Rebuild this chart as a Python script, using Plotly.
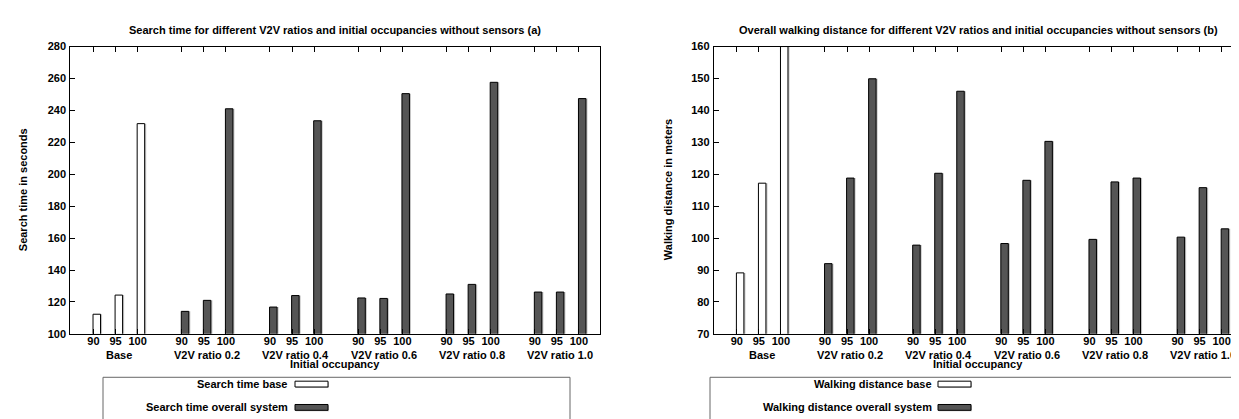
import plotly.graph_objects as go

# ---------------- data ----------------
groups = ["Base", "V2V ratio 0.2", "V2V ratio 0.4", "V2V ratio 0.6", "V2V ratio 0.8", "V2V ratio 1.0"]
occupancies = ["90", "95", "100"]

search_base = [112.3, 124.3, 231.7]
search_system = [114.1, 121.0, 241.0,
                 116.8, 124.0, 233.5,
                 122.5, 122.2, 250.5,
                 125.0, 131.0, 257.6,
                 126.2, 126.2, 247.4]

walk_base = [89.1, 117.2, 160.0]
walk_system = [92.0, 118.8, 149.9,
               97.8, 120.3, 146.0,
               98.3, 118.1, 130.3,
               99.6, 117.6, 118.8,
               100.3, 115.8, 102.9]

titles = ["Search time for different V2V ratios and initial occupancies without sensors (a)",
          "Overall walking distance for different V2V ratios and initial occupancies without sensors (b)"]
y_titles = ["Search time in seconds", "Walking distance in meters"]
x_title = "Initial occupancy"
legend_names = [["Search time base", "Search time overall system"],
                ["Walking distance base", "Walking distance overall system"]]
y_ranges = [[100, 280], [70, 160]]
y_dticks = [20, 10]

# ---------------- layout constants ----------------
W, H = 1239, 419
FONT = "Liberation Sans, Arial, sans-serif"
DARK = "#555555"
SHADOW = "#c4c4c4"
BAR_W = 0.34
TICK_SHIFT = 0.15

def py(pix):  # pixel from top -> paper y
    return (H - pix) / H

def px(pix):
    return pix / W

def tfont():
    return dict(family=FONT, size=11, color="black", weight="bold")

panel_x = [(62.3, 592.3), (705.7, 1235.0)]
plot_top, plot_bot = 33.5, 329.3
legend_box = [(95, 562), (702, 1250)]
legend_text_right = [282, 926]
legend_sample = [(287, 320), (930, 963)]
y_title_x = [15, 660]

def positions(start_group, n_groups):
    return [4 * g + i for g in range(start_group, start_group + n_groups) for i in range(3)]

fig = go.Figure()
shapes, annotations = [], []

panels = [(search_base, search_system), (walk_base, walk_system)]
for k, (base_vals, sys_vals) in enumerate(panels):
    xa = "x" if k == 0 else "x2"
    ya = "y" if k == 0 else "y2"
    xb = positions(0, 1)
    xs = positions(1, len(groups) - 1)
    # shadows
    for xv, yv in ((xb, base_vals), (xs, sys_vals)):
        fig.add_trace(go.Bar(x=xv, y=yv, width=BAR_W, offset=-BAR_W / 2 + 0.07,
                             marker=dict(color=SHADOW, line=dict(width=0)),
                             xaxis=xa, yaxis=ya, showlegend=False, hoverinfo="skip"))
    fig.add_trace(go.Bar(x=xb, y=base_vals, width=BAR_W, offset=-BAR_W / 2,
                         marker=dict(color="white", line=dict(color="black", width=1)),
                         xaxis=xa, yaxis=ya, name=legend_names[k][0], showlegend=False))
    fig.add_trace(go.Bar(x=xs, y=sys_vals, width=BAR_W, offset=-BAR_W / 2,
                         marker=dict(color=DARK, line=dict(color="black", width=1)),
                         xaxis=xa, yaxis=ya, name=legend_names[k][1], showlegend=False))

    all_pos = positions(0, len(groups))
    x0, x1 = panel_x[k]
    axis_common = dict(showline=True, linecolor="black", linewidth=1, showgrid=False,
                       zeroline=False, ticks="inside", ticklen=5, tickcolor="black",
                       tickfont=tfont())
    xax = dict(axis_common, domain=[px(x0), px(x1)], range=[-1.2, 22.82],
               tickvals=[p - TICK_SHIFT for p in all_pos],
               ticktext=occupancies * len(groups), mirror="ticks", anchor=ya,
               ticklabelstandoff=-3)
    yax = dict(axis_common, domain=[py(plot_bot), py(plot_top)], range=y_ranges[k],
               dtick=y_dticks[k], tick0=y_ranges[k][0], mirror=True, anchor=xa,
               ticklabelstandoff=1)
    if k == 0:
        fig.update_layout(xaxis=xax, yaxis=yax)
    else:
        fig.update_layout(xaxis2=xax, yaxis2=yax)

    # group labels
    for g, name in enumerate(groups):
        annotations.append(dict(x=4 * g + 1, xref=xa, y=py(351.5), yref="paper",
                                text=name, showarrow=False, xanchor="center", yanchor="middle",
                                font=tfont()))
    cx = (x0 + x1) / 2
    annotations.append(dict(x=px(cx), xref="paper", y=py(360), yref="paper", text=x_title,
                            showarrow=False, xanchor="center", yanchor="middle", font=tfont()))
    annotations.append(dict(x=px(cx), xref="paper", y=py(16.5), yref="paper", text=titles[k],
                            showarrow=False, xanchor="center", yanchor="middle", font=tfont()))
    annotations.append(dict(x=px(y_title_x[k]), xref="paper", y=py((plot_top + plot_bot) / 2),
                            yref="paper", text=y_titles[k], textangle=-90, showarrow=False,
                            xanchor="center", yanchor="middle", font=tfont()))

    # legend box
    lb0, lb1 = legend_box[k]
    shapes.append(dict(type="rect", xref="paper", yref="paper", x0=px(lb0), x1=px(lb1),
                       y0=py(440), y1=py(374), line=dict(color="#666666", width=1),
                       fillcolor="rgba(0,0,0,0)"))
    s0, s1 = legend_sample[k]
    for j, (yc, fill) in enumerate(((381, "white"), (405, DARK))):
        shapes.append(dict(type="rect", xref="paper", yref="paper", x0=px(s0 + 1), x1=px(s1 + 1),
                           y0=py(yc + 4), y1=py(yc - 2), line=dict(width=0), fillcolor=SHADOW))
        shapes.append(dict(type="rect", xref="paper", yref="paper", x0=px(s0), x1=px(s1),
                           y0=py(yc + 3), y1=py(yc - 3), line=dict(color="black", width=1),
                           fillcolor=fill))
        annotations.append(dict(x=px(legend_text_right[k]), xref="paper", y=py(yc), yref="paper",
                                text=legend_names[k][j], showarrow=False,
                                xanchor="right", yanchor="middle", font=tfont()))

fig.update_layout(width=W, height=H, autosize=False,
                  margin=dict(l=0, r=0, t=0, b=0),
                  paper_bgcolor="white", plot_bgcolor="white",
                  barmode="overlay", showlegend=False,
                  font=dict(family=FONT, size=11, color="black"),
                  shapes=shapes, annotations=annotations)

fig.write_html("out.html")
